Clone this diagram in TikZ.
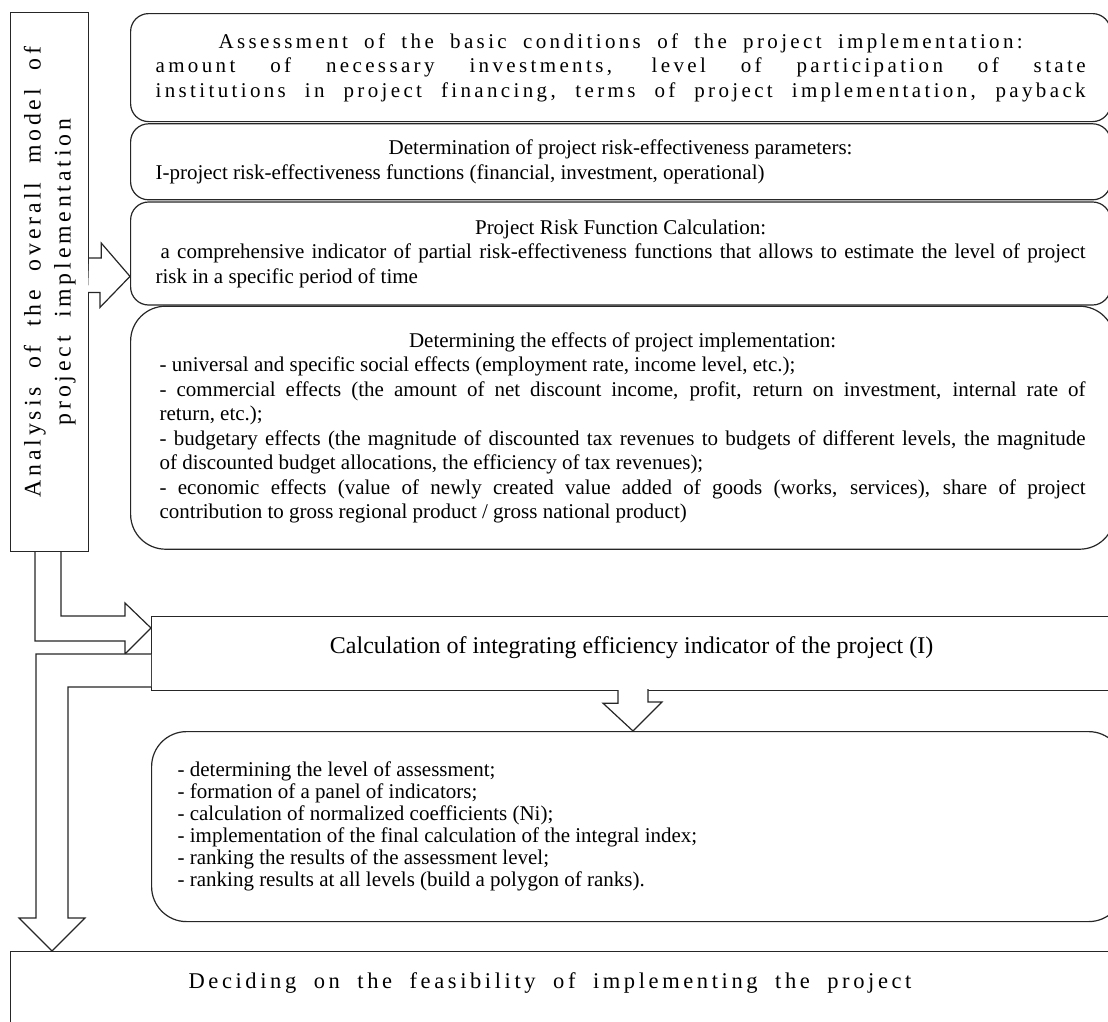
\documentclass[tikz,border=0pt]{standalone}
\usepackage{fontspec}
\setmainfont{Liberation Serif}
\newfontfamily\spacedfont[LetterSpace=16, WordSpace=1.9]{Liberation Serif}
\usetikzlibrary{positioning, calc}

\newcommand\resetspace{\spaceskip=0pt\xspaceskip=0pt\relax}
\newcommand\stagefont{\fontsize{21}{24.5}\selectfont\resetspace}
\newcommand\listfont{\fontsize{21}{22}\selectfont\resetspace}
\newcommand\fullline[1]{\makebox[\linewidth][s]{\resetspace#1}}
\newcommand\midline[1]{\makebox[\linewidth]{\resetspace#1}}

\tikzset{
  line/.style = {draw=black!85, line width=1.2pt},
  squarebox/.style = {line, fill=white, anchor=north west, inner sep=0pt},
  stagebox/.style = {line, fill=white, anchor=north west, rounded corners=18pt,
    text width=930pt, inner xsep=25pt, inner ysep=0pt, align=justify, font=\stagefont},
  bigstage/.style = {stagebox, rounded corners=35pt, text width=926pt, inner xsep=29pt},
  blockarrow/.style = {line, fill=white, line join=miter},
}

\begin{document}
\begin{tikzpicture}[x=1pt, y=-1pt]
  \useasboundingbox (0,0) rectangle (1108,1021);
  \clip (0,0) rectangle (1108,1021);

  \node[squarebox, minimum width=78pt, minimum height=539pt] (analysis) at (10,12)
    {\rotatebox{90}{\spacedfont\fontsize{23.8}{30}\selectfont\resetspace\hspace*{20pt}%
     \begin{tabular}{@{}c@{}}Analysis of the overall model of\\project implementation\end{tabular}}};

  \node[stagebox, minimum height=108pt, font=\spacedfont\stagefont] (assess) at (130,13)
    {\midline{Assessment of the basic conditions of the project implementation:}\\
     \fullline{amount of necessary investments, level of participation of state}\\
     \fullline{institutions in project financing, terms of project implementation, payback}};
  \node[stagebox, minimum height=76pt, below=1pt of assess.south west, anchor=north west] (param)
    {\midline{Determination of project risk-effectiveness parameters:}\\
     I-project risk-effectiveness functions (financial, investment, operational)};
  \node[stagebox, minimum height=103pt, below=1pt of param.south west, anchor=north west] (risk)
    {\midline{Project Risk Function Calculation:}\\
     \fullline{\hspace{5pt}a comprehensive indicator of partial risk-effectiveness functions that allows to estimate the level of project}\\
     risk in a specific period of time};
  \node[bigstage, minimum height=243pt, below=0pt of risk.south west, anchor=north west] (effects)
    {\midline{Determining the effects of project implementation:}\\
     - universal and specific social effects (employment rate, income level, etc.);\\
     \fullline{- commercial effects (the amount of net discount income, profit, return on investment, internal rate of}\\
     return, etc.);\\
     \fullline{- budgetary effects (the magnitude of discounted tax revenues to budgets of different levels, the magnitude}\\
     of discounted budget allocations, the efficiency of tax revenues);\\
     \fullline{- economic effects (value of newly created value added of goods (works, services), share of project}\\
     contribution to gross regional product / gross national product)};

  \node[squarebox, minimum width=960pt, text height=37pt, text depth=37pt,
        font=\fontsize{24}{28}\selectfont] (calc) at (151,616)
    {Calculation of integrating efficiency indicator of the project (I)};

  \node[bigstage, text width=920pt, inner xsep=26pt, minimum height=190pt, font=\listfont] (list) at (151,731)
    {- determining the level of assessment;\\
     - formation of a panel of indicators;\\
     - calculation of normalized coefficients (Ni);\\
     - implementation of the final calculation of the integral index;\\
     - ranking the results of the assessment level;\\
     - ranking results at all levels (build a polygon of ranks).};

  \node[squarebox, text width=1110pt, align=justify, text height=37pt, text depth=90pt,
        font=\spacedfont\fontsize{22.5}{26}\selectfont\resetspace] (decide) at (10,951)
    {\hspace*{178pt}Deciding on the feasibility of implementing the project};

  \draw[blockarrow] ($(analysis.north east)+(0,246)$) -- ++(12,0) -- ++(0,-15)
    -- ($(risk.north west)+(0,75)$) -- ++(-30,31) -- ++(0,-15) -- ++(-12,0);
  \draw[blockarrow] ($(analysis.south west)+(51,0)$) |- ($(calc.north west)+(-26,0)$) -- ++(0,-13)
    -- ($(calc.north west)+(0,12)$) -- ++(-26,26) -- ++(0,-13) -| ($(analysis.south west)+(25,0)$);
  \draw[blockarrow] ($(calc.north west)+(0,38)$) -| ($(decide.north west)+(26,-33)$) -- ++(-17,0)
    -- ($(decide.north west)+(42,0)$) -- ++(33,-33) -- ++(-17,0) |- ($(calc.north west)+(0,71)$);
  \draw[blockarrow] ($(calc.south west)+(467,-1)$) -- ++(0,13) -- ++(-15,0)
    -- ($(list.north west)+(482,0)$) -- ++(29,-29) -- ++(-14,0) -- ++(0,-13);
\end{tikzpicture}
\end{document}
